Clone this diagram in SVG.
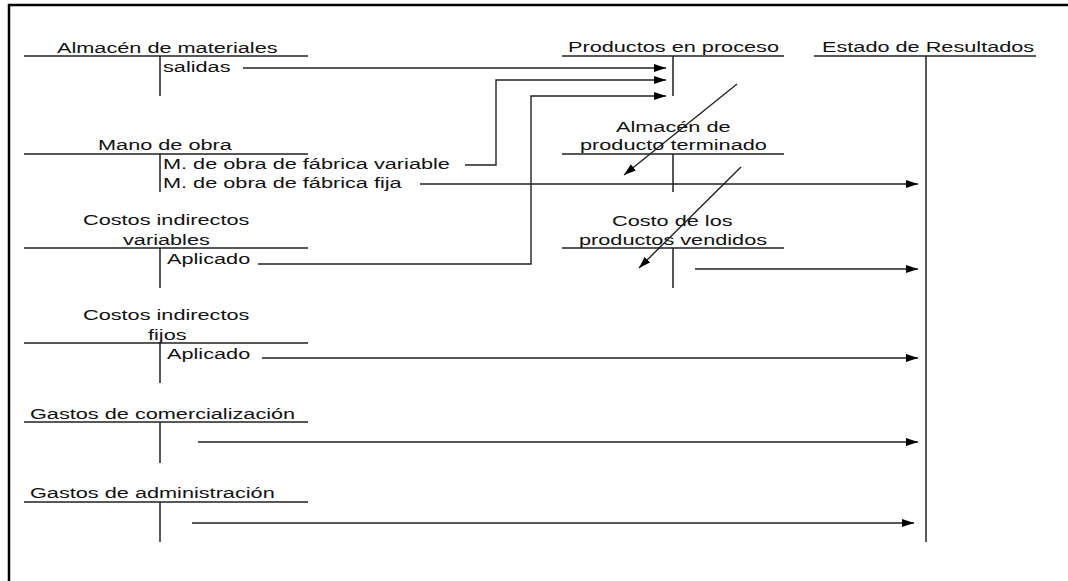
<svg xmlns="http://www.w3.org/2000/svg" width="1068" height="581" viewBox="0 0 1068 581">
<defs>
<style>
text{font-family:"Liberation Sans",Arial,sans-serif;font-size:15px;fill:#111}
.ln{stroke:#222;stroke-width:1.5;fill:none}
.cn{stroke:#222;stroke-width:1.4;fill:none}
.ar{marker-end:url(#ah)}
</style>
<marker id="ah" markerUnits="userSpaceOnUse" markerWidth="13" markerHeight="9" refX="12" refY="4" orient="auto" viewBox="0 0 13 9">
<path d="M0,0 L12,4 L0,8 z" fill="#000"/>
</marker>
</defs>
<rect width="1068" height="581" fill="#fff"/>
<path d="M9,581 V5 H1068" stroke="#000" stroke-width="2.5" fill="none"/>

<g id="almacen-materiales">
<text transform="matrix(1.447 0 0 1 57 53)">Almacén de materiales</text>
<path class="ln" d="M24,56 H308 M160,56 V96"/>
<text transform="matrix(1.447 0 0 1 163 72)">salidas</text>
</g>
<g id="mano-obra">
<text transform="matrix(1.447 0 0 1 98 150)">Mano de obra</text>
<path class="ln" d="M24,154 H308 M160,154 V192"/>
<text transform="matrix(1.447 0 0 1 163 169)">M. de obra de fábrica variable</text>
<text transform="matrix(1.447 0 0 1 163 188)">M. de obra de fábrica fija</text>
</g>
<g id="costos-indirectos-variables">
<text transform="matrix(1.447 0 0 1 83 225)">Costos indirectos</text>
<text transform="matrix(1.447 0 0 1 123 245)">variables</text>
<path class="ln" d="M24,248 H308 M160,248 V288"/>
<text transform="matrix(1.447 0 0 1 167 264)">Aplicado</text>
</g>
<g id="costos-indirectos-fijos">
<text transform="matrix(1.447 0 0 1 83 320)">Costos indirectos</text>
<text transform="matrix(1.447 0 0 1 148 340)">fijos</text>
<path class="ln" d="M24,343 H308 M160,343 V383"/>
<text transform="matrix(1.447 0 0 1 167 359)">Aplicado</text>
</g>
<g id="gastos-comercializacion">
<text transform="matrix(1.447 0 0 1 30 419)">Gastos de comercialización</text>
<path class="ln" d="M24,422 H308 M160,422 V463"/>
</g>
<g id="gastos-administracion">
<text transform="matrix(1.447 0 0 1 30 498)">Gastos de administración</text>
<path class="ln" d="M24,502 H308 M160,502 V542"/>
</g>
<g id="productos-proceso">
<text transform="matrix(1.447 0 0 1 568 52)">Productos en proceso</text>
<path class="ln" d="M562,56 H784 M673,56 V96"/>
</g>
<g id="almacen-producto-terminado">
<text transform="matrix(1.447 0 0 1 616 132)">Almacén de</text>
<text transform="matrix(1.447 0 0 1 580 150)">producto terminado</text>
<path class="ln" d="M562,154 H784 M673,154 V192"/>
</g>
<g id="costo-productos-vendidos">
<text transform="matrix(1.447 0 0 1 612 226)">Costo de los</text>
<text transform="matrix(1.447 0 0 1 579 245)">productos vendidos</text>
<path class="ln" d="M562,248 H784 M673,248 V288"/>
</g>
<g id="estado-resultados">
<text transform="matrix(1.447 0 0 1 822 52)">Estado de Resultados</text>
<path class="ln" d="M814,56 H1036 M926,56 V542"/>
</g>

<g id="connectors">
<path class="cn ar" d="M243,68 H666"/>
<path class="cn ar" d="M465,165 H496 V80 H666"/>
<path class="cn ar" d="M258,264 H531 V96 H666"/>
<path class="cn ar" d="M420,184 H918"/>
<path class="cn ar" d="M695,269 H918"/>
<path class="cn ar" d="M262,358 H918"/>
<path class="cn ar" d="M198,442 H918"/>
<path class="cn ar" d="M192,523 H914"/>
<path class="cn ar" d="M737,84 L624,175"/>
<path class="cn ar" d="M741,167 L639,268"/>
</g>
</svg>
